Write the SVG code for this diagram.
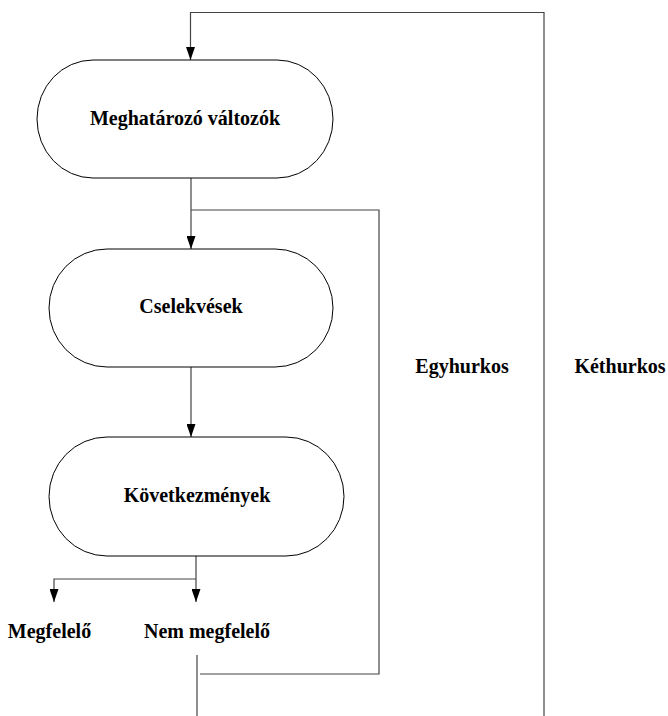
<svg xmlns="http://www.w3.org/2000/svg" width="668" height="716" viewBox="0 0 668 716">
  <style>
    .node { fill: #ffffff; stroke: #000000; stroke-width: 1; }
    .conn { fill: none; stroke: #444444; stroke-width: 1.2; }
    .lbl { font-family: "Liberation Serif", "Times New Roman", serif; font-weight: bold; font-size: 20px; fill: #000000; }
  </style>
  <defs>
    <marker id="arr" markerUnits="userSpaceOnUse" markerWidth="13" markerHeight="9" refX="13" refY="4.5" orient="auto">
      <path d="M0,0 L13,4.5 L0,9 Z" fill="#000000"/>
    </marker>
  </defs>
  <rect width="668" height="716" fill="#ffffff"/>

  <g id="connectors">
    <path class="conn" d="M544,716 V12.5 H190.5 V60" marker-end="url(#arr)"/>
    <path class="conn" d="M191,178 V249" marker-end="url(#arr)"/>
    <path class="conn" d="M191,210 H379 V674 H200"/>
    <path class="conn" d="M191,367 V437" marker-end="url(#arr)"/>
    <path class="conn" d="M196,556 V602" marker-end="url(#arr)"/>
    <path class="conn" d="M196,579 H54 V602" marker-end="url(#arr)"/>
    <path class="conn" d="M197,655 V716"/>
  </g>

  <g id="n1">
    <rect class="node" x="37" y="60" width="296" height="118" rx="56" ry="59"/>
    <text class="lbl" x="185" y="125" text-anchor="middle">Meghatározó változók</text>
  </g>
  <g id="n2">
    <rect class="node" x="49" y="249" width="284" height="118" rx="58" ry="59"/>
    <text class="lbl" x="191" y="313" text-anchor="middle">Cselekvések</text>
  </g>
  <g id="n3">
    <rect class="node" x="49" y="437" width="295" height="119" rx="58" ry="59.5"/>
    <text class="lbl" x="197" y="502" text-anchor="middle">Következmények</text>
  </g>
  <g id="l-megfelelo">
    <text class="lbl" x="49.5" y="638" text-anchor="middle">Megfelelő</text>
  </g>
  <g id="l-nem">
    <text class="lbl" x="207" y="638" text-anchor="middle">Nem megfelelő</text>
  </g>
  <g id="l-egy">
    <text class="lbl" x="462" y="373" text-anchor="middle">Egyhurkos</text>
  </g>
  <g id="l-ket">
    <text class="lbl" x="620" y="373" text-anchor="middle">Kéthurkos</text>
  </g>
</svg>
